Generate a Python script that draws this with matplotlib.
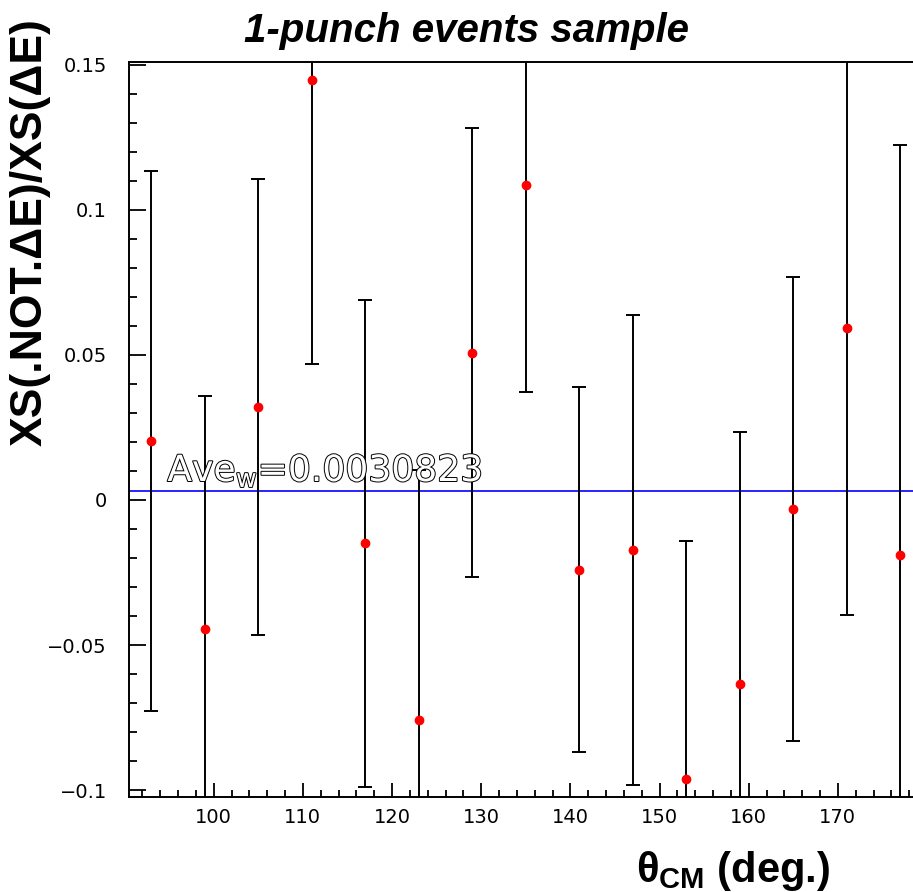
import matplotlib
matplotlib.use('Agg')
import matplotlib.pyplot as plt
import matplotlib.patheffects as pe
from matplotlib.ticker import MultipleLocator, FuncFormatter

# datos
theta = [93, 99, 105, 111, 117, 123, 129, 135, 141, 147, 153, 159, 165, 171, 177]
ratio = [0.0203, -0.0445, 0.0320, 0.1449, -0.0149, -0.0759, 0.0508, 0.1086,
         -0.0241, -0.0172, -0.0962, -0.0634, -0.0031, 0.0594, -0.0189]
err = [0.0931, 0.0805, 0.0787, 0.0980, 0.0840, 0.0862, 0.0775, 0.0714,
       0.0629, 0.0810, 0.0821, 0.0870, 0.0800, 0.0991, 0.1414]
ave_w = 0.0030823
xticks = [100, 110, 120, 130, 140, 150, 160, 170]

plt.rcParams['mathtext.fontset'] = 'custom'
plt.rcParams['mathtext.bf'] = 'Liberation Sans:bold'
plt.rcParams['mathtext.rm'] = 'DejaVu Sans'
plt.rcParams['axes.linewidth'] = 1.4

fig = plt.figure(figsize=(9.13, 8.92), dpi=100)
ax = fig.add_axes([129 / 913, 1 - 797 / 892, 798 / 913, 735 / 892])

# puntos con barras de error
ax.errorbar(theta, ratio, yerr=err, fmt='o', color='red', markersize=6,
            ecolor='black', elinewidth=1.4, capsize=4.7, capthick=1.4, zorder=3)

# media pesada
ax.axhline(ave_w, color='#0000ff', linewidth=1.2, zorder=2)
ax.text(94.8, ave_w + 0.0006, r'Ave$_{\rm w}$=%.7f' % ave_w, fontsize=26,
        color='white', va='bottom', ha='left', zorder=4,
        path_effects=[pe.withStroke(linewidth=1.4, foreground='black')])

ax.set_xlim(90.5, 180)
ax.set_ylim(-0.1024, 0.151)

ax.set_xticks(xticks)
ax.xaxis.set_minor_locator(MultipleLocator(2))
ax.yaxis.set_major_locator(MultipleLocator(0.05))
ax.yaxis.set_minor_locator(MultipleLocator(0.01))
ax.yaxis.set_major_formatter(FuncFormatter(lambda v, p: ('%g' % round(v, 3)).replace('-', '\u2212')))

ax.tick_params(axis='both', which='both', direction='in', top=False, right=False,
               width=1.3, labelsize=14)
ax.tick_params(axis='x', which='major', length=10, pad=8)
ax.tick_params(axis='x', which='minor', length=5)
ax.tick_params(axis='y', which='major', length=12, pad=16)
ax.tick_params(axis='y', which='minor', length=6)

# titulo y etiquetas
fig.text(466 / 913, 1 - 31 / 892, '1-punch events sample', ha='center', va='center',
         fontsize=29, fontweight='bold', fontstyle='italic', family='Liberation Sans')
fig.text(30 / 913, 1 - 232 / 892, 'XS(.NOT.ΔE)/XS(ΔE)', rotation=90, ha='center',
         va='center', fontsize=32, fontweight='bold', family='Liberation Sans')
fig.text(733 / 913, 1 - 882 / 892, r'$\mathbf{\theta_{CM}}$ (deg.)', ha='center',
         va='baseline', fontsize=30, fontweight='bold', family='Liberation Sans')

fig.savefig('out.png', dpi=100, facecolor='white')
